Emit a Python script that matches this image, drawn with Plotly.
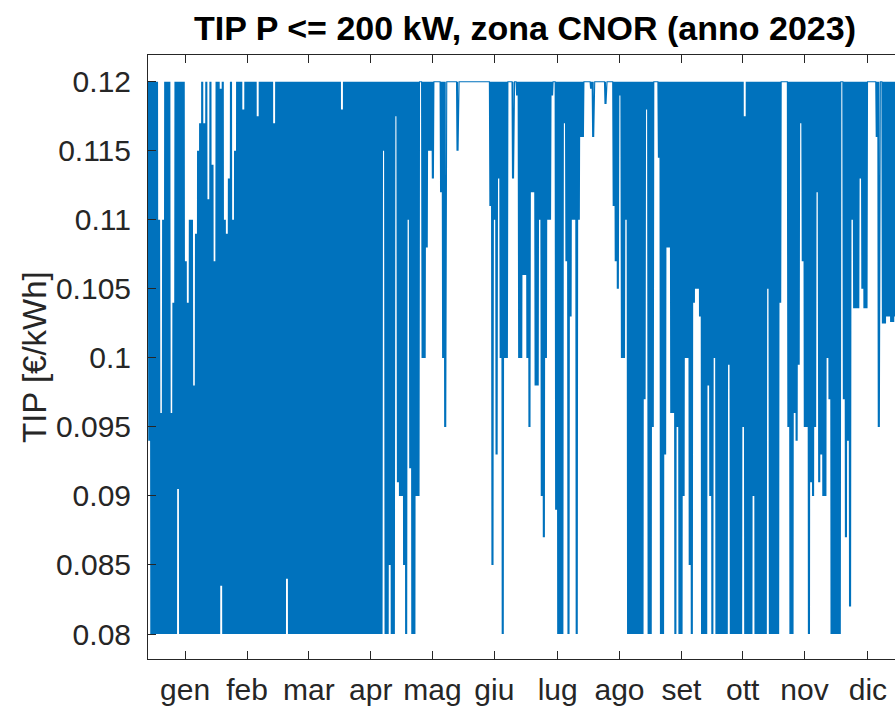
import plotly.graph_objects as go

# ---- data: daily max / min of the hourly TIP (EUR/kWh), day 0 = 1 Jan 2023 ----
tip_max = [
    # gen
    0.12, 0.12, 0.12, 0.12, 0.12, 0.110, 0.096, 0.110, 0.12, 0.12,
    0.12, 0.096, 0.104, 0.12, 0.12, 0.12, 0.12, 0.12, 0.107, 0.104,
    0.110, 0.110, 0.098, 0.109, 0.115, 0.117, 0.12, 0.117, 0.12, 0.1115, 0.12,
    # feb
    0.114, 0.107, 0.12, 0.12, 0.1195, 0.12, 0.110, 0.109, 0.113, 0.12,
    0.110, 0.115, 0.12, 0.12, 0.12, 0.118, 0.12, 0.12, 0.12, 0.12,
    0.12, 0.12, 0.1175, 0.12, 0.12, 0.12, 0.12, 0.12,
    # mar
    0.12, 0.12, 0.117, 0.12, 0.12, 0.12, 0.12, 0.12, 0.12, 0.12,
    0.12, 0.12, 0.12, 0.12, 0.12, 0.12, 0.12, 0.12, 0.12, 0.12,
    0.12, 0.12, 0.12, 0.12, 0.12, 0.12, 0.12, 0.12, 0.12, 0.12, 0.12,
    # apr
    0.12, 0.12, 0.12, 0.12, 0.118, 0.12, 0.12, 0.12, 0.12, 0.12,
    0.12, 0.12, 0.12, 0.12, 0.12, 0.12, 0.12, 0.12, 0.12, 0.12,
    0.12, 0.12, 0.12, 0.12, 0.12, 0.12, 0.12, 0.12, 0.12, 0.12,
    # mag
    0.12, 0.12, 0.12, 0.12, 0.12, 0.12, 0.12, 0.12, 0.12, 0.12,
    0.12, 0.12, 0.12, 0.12, 0.12, 0.12, 0.12, 0.12, 0.12, 0.12,
    0.12, 0.12, 0.12, 0.12, 0.12, 0.12, 0.12, 0.12, 0.12, 0.12, 0.12,
    # giu
    0.12, 0.12, 0.12, 0.12, 0.12, 0.12, 0.12, 0.12, 0.12, 0.12,
    0.12, 0.12, 0.12, 0.12, 0.12, 0.12, 0.12, 0.12, 0.12, 0.12,
    0.12, 0.12, 0.12, 0.12, 0.12, 0.12, 0.12, 0.12, 0.12, 0.12,
    # lug
    0.12, 0.12, 0.12, 0.12, 0.12, 0.12, 0.12, 0.12, 0.12, 0.12,
    0.12, 0.12, 0.12, 0.12, 0.12, 0.12, 0.12, 0.12, 0.12, 0.12,
    0.12, 0.12, 0.12, 0.12, 0.12, 0.12, 0.12, 0.12, 0.12, 0.12, 0.12,
    # ago
    0.12, 0.12, 0.12, 0.12, 0.12, 0.12, 0.12, 0.12, 0.12, 0.12,
    0.12, 0.12, 0.12, 0.12, 0.12, 0.12, 0.12, 0.12, 0.12, 0.12,
    0.12, 0.12, 0.12, 0.12, 0.12, 0.12, 0.12, 0.12, 0.12, 0.12, 0.12,
    # set
    0.12, 0.12, 0.12, 0.12, 0.12, 0.12, 0.12, 0.12, 0.12, 0.12,
    0.12, 0.12, 0.12, 0.12, 0.12, 0.12, 0.12, 0.12, 0.12, 0.12,
    0.12, 0.12, 0.12, 0.12, 0.12, 0.12, 0.12, 0.12, 0.12, 0.12,
    # ott
    0.12, 0.12, 0.12, 0.12, 0.12, 0.12, 0.12, 0.12, 0.12, 0.12,
    0.12, 0.12, 0.12, 0.12, 0.12, 0.12, 0.12, 0.1175, 0.12, 0.12,
    0.12, 0.12, 0.12, 0.12, 0.12, 0.12, 0.12, 0.12, 0.12, 0.12, 0.12,
    # nov
    0.12, 0.12, 0.12, 0.12, 0.12, 0.12, 0.12, 0.12, 0.12, 0.12,
    0.12, 0.12, 0.12, 0.12, 0.12, 0.12, 0.12, 0.12, 0.12, 0.12,
    0.12, 0.12, 0.12, 0.12, 0.12, 0.12, 0.12, 0.12, 0.12, 0.12,
    # dic
    0.12, 0.12, 0.12, 0.12, 0.12, 0.12, 0.12, 0.12, 0.12, 0.12,
    0.12, 0.12, 0.12, 0.12, 0.12, 0.12, 0.12, 0.12, 0.12, 0.12,
    0.12, 0.12, 0.12, 0.12, 0.12, 0.12, 0.12, 0.12, 0.12, 0.12, 0.12,
]

tip_min = [
    # gen
    0.094, 0.08, 0.08, 0.08, 0.08, 0.08, 0.08, 0.08, 0.08, 0.08,
    0.08, 0.08, 0.08, 0.08, 0.0905, 0.08, 0.08, 0.08, 0.08, 0.08,
    0.08, 0.08, 0.08, 0.08, 0.08, 0.08, 0.08, 0.08, 0.08, 0.08, 0.08,
    # feb
    0.08, 0.08, 0.08, 0.08, 0.0835, 0.08, 0.08, 0.08, 0.08, 0.08,
    0.08, 0.08, 0.08, 0.08, 0.08, 0.08, 0.08, 0.08, 0.08, 0.08,
    0.08, 0.08, 0.08, 0.08, 0.08, 0.08, 0.08, 0.08,
    # mar
    0.08, 0.08, 0.08, 0.08, 0.08, 0.08, 0.08, 0.08, 0.084, 0.08,
    0.08, 0.08, 0.08, 0.08, 0.08, 0.08, 0.08, 0.08, 0.08, 0.08,
    0.08, 0.08, 0.08, 0.08, 0.08, 0.08, 0.08, 0.08, 0.08, 0.08, 0.08,
    # apr
    0.08, 0.08, 0.08, 0.08, 0.08, 0.08, 0.08, 0.08, 0.08, 0.08,
    0.08, 0.08, 0.08, 0.08, 0.08, 0.08, 0.08, 0.08, 0.08, 0.08,
    0.08, 0.08, 0.08, 0.08, 0.115, 0.08, 0.08, 0.085, 0.08, 0.08,
    # mag
    0.1175, 0.091, 0.090, 0.090, 0.085, 0.08, 0.110, 0.092, 0.08, 0.08,
    0.090, 0.090, 0.12, 0.100, 0.100, 0.108, 0.115, 0.115, 0.113, 0.12,
    0.12, 0.12, 0.112, 0.100, 0.095, 0.12, 0.12, 0.12, 0.12, 0.12, 0.115,
    # giu
    0.12, 0.12, 0.12, 0.12, 0.12, 0.12, 0.12, 0.12, 0.12, 0.12,
    0.12, 0.12, 0.12, 0.12, 0.12, 0.111, 0.085, 0.110, 0.093, 0.113,
    0.100, 0.08, 0.100, 0.100, 0.12, 0.12, 0.113, 0.12, 0.119, 0.100,
    # lug
    0.100, 0.106, 0.106, 0.100, 0.095, 0.112, 0.112, 0.098, 0.098, 0.110,
    0.090, 0.087, 0.100, 0.110, 0.110, 0.119, 0.12, 0.089, 0.08, 0.08,
    0.08, 0.117, 0.107, 0.08, 0.103, 0.110, 0.110, 0.08, 0.110, 0.116, 0.116,
    # ago
    0.12, 0.12, 0.12, 0.1195, 0.116, 0.12, 0.12, 0.12, 0.12, 0.12,
    0.1184, 0.12, 0.12, 0.12, 0.111, 0.107, 0.105, 0.119, 0.100, 0.100,
    0.110, 0.08, 0.08, 0.08, 0.08, 0.08, 0.08, 0.08, 0.08, 0.097, 0.118,
    # set
    0.08, 0.08, 0.095, 0.12, 0.12, 0.1145, 0.08, 0.08, 0.093, 0.108,
    0.108, 0.096, 0.096, 0.08, 0.095, 0.08, 0.08, 0.090, 0.100, 0.100,
    0.085, 0.08, 0.104, 0.105, 0.105, 0.103, 0.08, 0.08, 0.08, 0.098,
    # ott
    0.090, 0.08, 0.100, 0.08, 0.08, 0.08, 0.08, 0.08, 0.08, 0.0995,
    0.08, 0.08, 0.08, 0.08, 0.08, 0.08, 0.095, 0.08, 0.08, 0.08,
    0.08, 0.090, 0.08, 0.08, 0.08, 0.08, 0.08, 0.08, 0.105, 0.08, 0.08,
    # nov
    0.08, 0.08, 0.08, 0.104, 0.12, 0.12, 0.12, 0.095, 0.08, 0.08,
    0.096, 0.094, 0.0995, 0.117, 0.107, 0.095, 0.095, 0.08, 0.091, 0.090,
    0.095, 0.112, 0.091, 0.093, 0.090, 0.090, 0.100, 0.097, 0.08, 0.08,
    # dic
    0.08, 0.08, 0.08, 0.12, 0.097, 0.087, 0.094, 0.082, 0.110, 0.1036,
    0.1036, 0.1036, 0.113, 0.105, 0.1036, 0.1036, 0.12, 0.12, 0.12, 0.12,
    0.116, 0.095, 0.12, 0.1025, 0.1025, 0.103, 0.103, 0.1026, 0.1026, 0.103, 0.12,
]

month_labels = ["gen", "feb", "mar", "apr", "mag", "giu", "lug", "ago", "set", "ott", "nov", "dic"]
month_tick_days = [18.05, 48.18, 78.25, 108.37, 138.44, 168.52, 199.37, 229.44, 259.56, 289.39, 319.46, 350.32]
y_tick_vals = [0.08, 0.085, 0.09, 0.095, 0.1, 0.105, 0.11, 0.115, 0.12]
y_tick_text = ["0.08", "0.085", "0.09", "0.095", "0.1", "0.105", "0.11", "0.115", "0.12"]

# build a line that swings between daily max and min (two swings per day)
xs, ys = [], []
for d in range(len(tip_min)):
    hi, lo = tip_max[d], tip_min[d]
    for frac, val in ((0.125, hi), (0.375, lo), (0.625, hi), (0.875, lo)):
        xs.append(d + frac)
        ys.append(val)

fig = go.Figure()
fig.add_trace(go.Scatter(x=xs, y=ys, mode="lines",
                         line=dict(color="#0072BD", width=1.1),
                         hoverinfo="skip", showlegend=False))

axis_col = "#262626"
font_family = "Liberation Sans, Arial, sans-serif"

fig.update_layout(
    width=895, height=708,
    margin=dict(l=148, r=0, t=55, b=49, autoexpand=False),
    paper_bgcolor="white", plot_bgcolor="white",
    font=dict(family=font_family, color=axis_col, size=30),
    xaxis=dict(range=[0, 363.5], showgrid=False, zeroline=False, automargin=False,
               showline=True, linecolor=axis_col, linewidth=1, mirror="ticks",
               ticks="inside", ticklen=8, tickcolor=axis_col, tickwidth=1,
               tickmode="array", tickvals=month_tick_days, ticktext=month_labels,
               tickfont=dict(size=30, color=axis_col), ticklabelstandoff=4,
               ticklabeloverflow="allow"),
    yaxis=dict(range=[0.078189, 0.121941], showgrid=False, zeroline=False, automargin=False,
               showline=True, linecolor=axis_col, linewidth=1, mirror=False,
               ticks="inside", ticklen=8, tickcolor=axis_col, tickwidth=1,
               tickmode="array", tickvals=y_tick_vals, ticktext=y_tick_text,
               tickfont=dict(size=30, color=axis_col), ticklabelstandoff=10),
    annotations=[
        dict(text="<b>TIP P &lt;= 200 kW, zona CNOR (anno 2023)</b>",
             xref="paper", yref="paper", x=0.5045, y=1.045,
             xanchor="center", yanchor="middle", showarrow=False,
             font=dict(size=34, color="black", family=font_family)),
        dict(text="TIP [€/kWh]", textangle=-90,
             xref="paper", yref="paper", x=-0.1526, y=0.5,
             xanchor="center", yanchor="middle", showarrow=False,
             font=dict(size=33, color=axis_col, family=font_family)),
    ],
)

fig.write_html(
    "out.html",
    config={"displayModeBar": False},
    post_script="document.body.style.margin='0';document.body.style.overflow='hidden';",
)
